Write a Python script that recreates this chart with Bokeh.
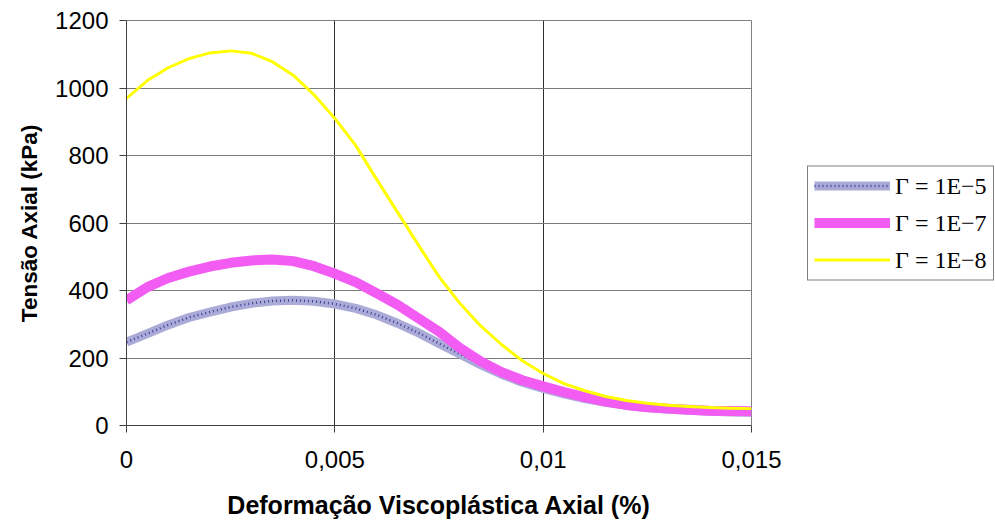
from bokeh.plotting import figure
from bokeh.layouts import row
from bokeh.models import (Range1d, FixedTicker, CustomJSTickFormatter, Legend, LegendItem)
from bokeh.embed import file_html
from bokeh.resources import INLINE

# ---- data ----
strain = [0.0, 0.0005, 0.001, 0.0015, 0.002, 0.0025, 0.003, 0.0035, 0.004, 0.0045,
          0.005, 0.0055, 0.006, 0.0065, 0.007, 0.0075, 0.008, 0.0085, 0.009, 0.0095,
          0.01, 0.0105, 0.011, 0.0115, 0.012, 0.0125, 0.013, 0.0135, 0.014, 0.0145, 0.015]

stress_1e5 = [247, 272, 298, 320, 336, 351, 362, 369, 371, 368,
              360, 347, 328, 303, 275, 243, 212, 180, 152, 128,
              110, 94, 80, 69, 60, 53, 48, 45, 42, 40, 39]

stress_1e7 = [371, 410, 437, 456, 471, 482, 489, 492, 487, 472,
              450, 425, 392, 358, 318, 278, 230, 190, 158, 134,
              116, 99, 84, 71, 61, 54, 50, 47, 44, 43, 42]

stress_1e8 = [969, 1022, 1060, 1087, 1104, 1110, 1103, 1078, 1038, 980,
              910, 830, 730, 633, 536, 441, 362, 295, 240, 192,
              154, 124, 103, 86, 74, 66, 60, 56, 53, 51, 50]

labels = ["\u0393 = 1E\u22125", "\u0393 = 1E\u22127", "\u0393 = 1E\u22128"]
x_ticks = [0, 0.005, 0.01, 0.015]
y_ticks = [0, 200, 400, 600, 800, 1000, 1200]

FONT = "Liberation Sans"

# series styles
STY_B = dict(line_color="#ababd8", line_width=9, line_join="round")
STY_BD = dict(line_color="#1a1a8a", line_width=2.5, line_dash="1 3", line_alpha=0.75,
              line_join="round")
STY_M = dict(line_color="#f25cf2", line_width=10, line_join="round")
STY_Y = dict(line_color="#ffff00", line_width=3, line_join="round")

p = figure(width=800, height=523, output_backend="svg", toolbar_location=None,
           x_range=Range1d(0, 0.015), y_range=Range1d(0, 1200),
           min_border_left=126, min_border_right=49, min_border_top=20, min_border_bottom=98)
p.background_fill_color = "white"
p.border_fill_color = "white"
p.outline_line_color = "#808080"
p.outline_line_width = 1

# grid
p.xgrid.ticker = FixedTicker(ticks=x_ticks)
p.ygrid.ticker = FixedTicker(ticks=y_ticks)
p.xgrid.grid_line_color = "#303030"
p.ygrid.grid_line_color = "#7a7a7a"

# axes
xa = p.xaxis[0]
ya = p.yaxis[0]
xa.ticker = FixedTicker(ticks=x_ticks)
ya.ticker = FixedTicker(ticks=y_ticks)
xa.formatter = CustomJSTickFormatter(code="return tick.toString().replace('.', ',');")
for ax in (xa, ya):
    ax.axis_line_color = "#404040"
    ax.major_tick_line_color = "#404040"
    ax.minor_tick_line_color = None
    ax.major_tick_in = 0
    ax.major_tick_out = 7
    ax.major_label_text_font = FONT
    ax.major_label_text_font_size = "24px"
    ax.major_label_text_color = "black"
    ax.axis_label_text_font = FONT
    ax.axis_label_text_font_style = "bold"
    ax.axis_label_text_color = "black"
xa.axis_label_text_font_size = "25px"
ya.axis_label_text_font_size = "22.5px"
xa.major_label_standoff = 18
ya.major_label_standoff = 11
xa.axis_label = "Deformação Viscoplástica Axial (%)"
ya.axis_label = "Tensão Axial (kPa)"
xa.axis_label_standoff = 20
ya.axis_label_standoff = 10

# series
p.line(strain, stress_1e5, **STY_B)
p.line(strain, stress_1e5, **STY_BD)
p.line(strain, stress_1e7, **STY_M)
p.line(strain, stress_1e8, **STY_Y)

# legend panel (separate figure on the right; the series are drawn there
# too but lie outside its visible range, so only the legend shows)
lf = figure(width=195, height=523, output_backend="svg", toolbar_location=None,
            x_axis_type=None, y_axis_type=None,
            x_range=Range1d(0, 1), y_range=Range1d(-2, -1),
            min_border_left=0, min_border_right=0, min_border_top=0, min_border_bottom=78)
lf.outline_line_color = None
lf.grid.visible = False
lf.background_fill_color = "white"
lf.border_fill_color = "white"
lb = lf.line(strain, stress_1e5, **STY_B)
lbd = lf.line(strain, stress_1e5, **STY_BD)
lm = lf.line(strain, stress_1e7, **STY_M)
ly = lf.line(strain, stress_1e8, **STY_Y)

legend = Legend(items=[
    LegendItem(label=labels[0], renderers=[lb, lbd]),
    LegendItem(label=labels[1], renderers=[lm]),
    LegendItem(label=labels[2], renderers=[ly]),
], location="center_left")
legend.label_text_font = "Liberation Serif"
legend.label_text_font_size = "24px"
legend.label_text_color = "black"
legend.glyph_width = 76
legend.glyph_height = 20
legend.label_standoff = 5
legend.padding = 6
legend.spacing = 10
legend.margin = 7
legend.border_line_color = "black"
legend.border_line_width = 1
legend.background_fill_color = "white"
legend.background_fill_alpha = 1
lf.add_layout(legend)

layout = row(p, lf)
open("out.html", "w").write(file_html(layout, INLINE))
